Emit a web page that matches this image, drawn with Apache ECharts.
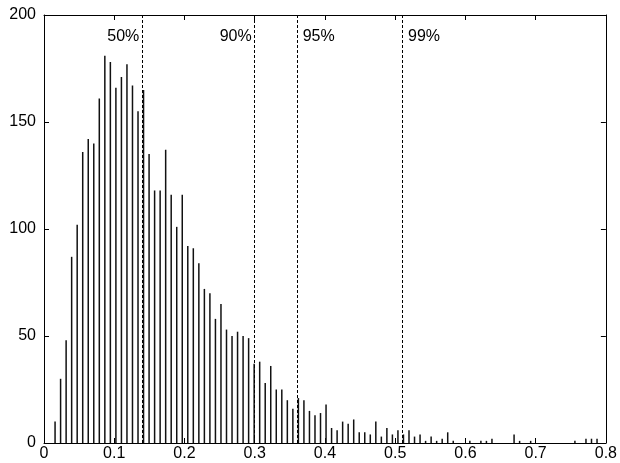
<!DOCTYPE html>
<html>
<head>
<meta charset="utf-8">
<script src="https://cdn.jsdelivr.net/npm/echarts@6/dist/echarts.min.js"></script>
<style>
  html, body { margin: 0; padding: 0; background: #fff; }
  #chart { width: 620px; height: 463px; }
</style>
</head>
<body>
<div id="chart"></div>
<script>
// histogram bins: first bin centre is bin 2 of width 1/127
const firstBin = 2;
const binWidth = 1 / 127;
const counts = [
  10, 30, 48, 87, 102, 136, 142, 140, 161, 181,
  178, 166, 171, 177, 167, 155, 165, 135, 118, 118,
  137, 116, 101, 116, 92, 91, 84, 72, 70, 58,
  65, 53, 50, 52, 50, 49, 37, 38, 28, 36,
  25, 25, 20, 16, 21, 20, 15, 13, 14, 18,
  7, 6, 10, 9, 11, 5, 5, 4, 10, 3,
  7, 4, 6, 4, 6, 3, 4, 1, 3, 1,
  2, 5, 1, 0, 0, 1, 0, 1, 1, 2,
  0, 0, 0, 4, 1, 0, 1, 0, 0, 0,
  0, 0, 0, 0, 1, 0, 2, 2, 2, 0
];
const binCenters = counts.map((_, i) => (i + firstBin) * binWidth);

// percentile cut-offs
const cutoffs = [0.140, 0.300, 0.364, 0.514];
const cutoffLabels = ['50%', '90%', '95%', '99%'];
const cutoffLabelSide = ['left', 'left', 'right', 'right'];
const labelLevel = 190;

const xTicks = [0, 0.1, 0.2, 0.3, 0.4, 0.5, 0.6, 0.7, 0.8];
const yTicks = [0, 50, 100, 150, 200];

const font = 'Liberation Sans, Arial, sans-serif';
const ink = '#000';

const chart = echarts.init(document.getElementById('chart'), null, { renderer: 'canvas' });

const baseX = {
  type: 'value',
  min: xTicks[0],
  max: xTicks[xTicks.length - 1],
  interval: 0.1,
  splitLine: { show: false },
  axisLine: { show: true, onZero: false, lineStyle: { color: ink, width: 1 } },
  axisTick: { show: true, inside: true, length: 5, lineStyle: { color: ink } }
};
const baseY = {
  type: 'value',
  min: yTicks[0],
  max: yTicks[yTicks.length - 1],
  interval: 50,
  splitLine: { show: false },
  axisLine: { show: true, onZero: false, lineStyle: { color: ink, width: 1 } },
  axisTick: { show: true, inside: true, length: 5, lineStyle: { color: ink } }
};

chart.setOption({
  animation: false,
  backgroundColor: '#fff',
  grid: { left: 44, right: 12, top: 15, bottom: 20, containLabel: false },
  xAxis: [
    Object.assign({}, baseX, {
      position: 'bottom',
      axisLabel: {
        show: true, margin: 3, color: ink, fontSize: 16, fontFamily: font,
        formatter: v => (v === 0 ? '0' : v.toFixed(1))
      }
    }),
    Object.assign({}, baseX, { position: 'top', axisLabel: { show: false } })
  ],
  yAxis: [
    Object.assign({}, baseY, {
      position: 'left',
      axisLabel: { show: true, margin: 8, color: ink, fontSize: 16, fontFamily: font }
    }),
    Object.assign({}, baseY, { position: 'right', axisLabel: { show: false } })
  ],
  series: [
    {
      type: 'bar',
      xAxisIndex: 0,
      yAxisIndex: 0,
      barWidth: 1.5,
      itemStyle: { color: '#111' },
      data: binCenters.map((x, i) => [x, counts[i]]),
      markLine: {
        silent: true,
        symbol: ['none', 'none'],
        label: { show: false },
        lineStyle: { color: ink, width: 1, type: [3, 2] },
        data: cutoffs.map(c => ({ xAxis: c }))
      }
    },
    {
      type: 'scatter',
      xAxisIndex: 0,
      yAxisIndex: 0,
      symbolSize: 0,
      silent: true,
      itemStyle: { opacity: 1, color: ink },
      data: cutoffs.map((c, i) => ({
        value: [c, labelLevel],
        label: {
          show: true,
          position: cutoffLabelSide[i],
          distance: 3,
          formatter: cutoffLabels[i],
          color: ink,
          opacity: 1,
          fontSize: 16,
          fontFamily: font
        }
      }))
    }
  ]
});
</script>
</body>
</html>
